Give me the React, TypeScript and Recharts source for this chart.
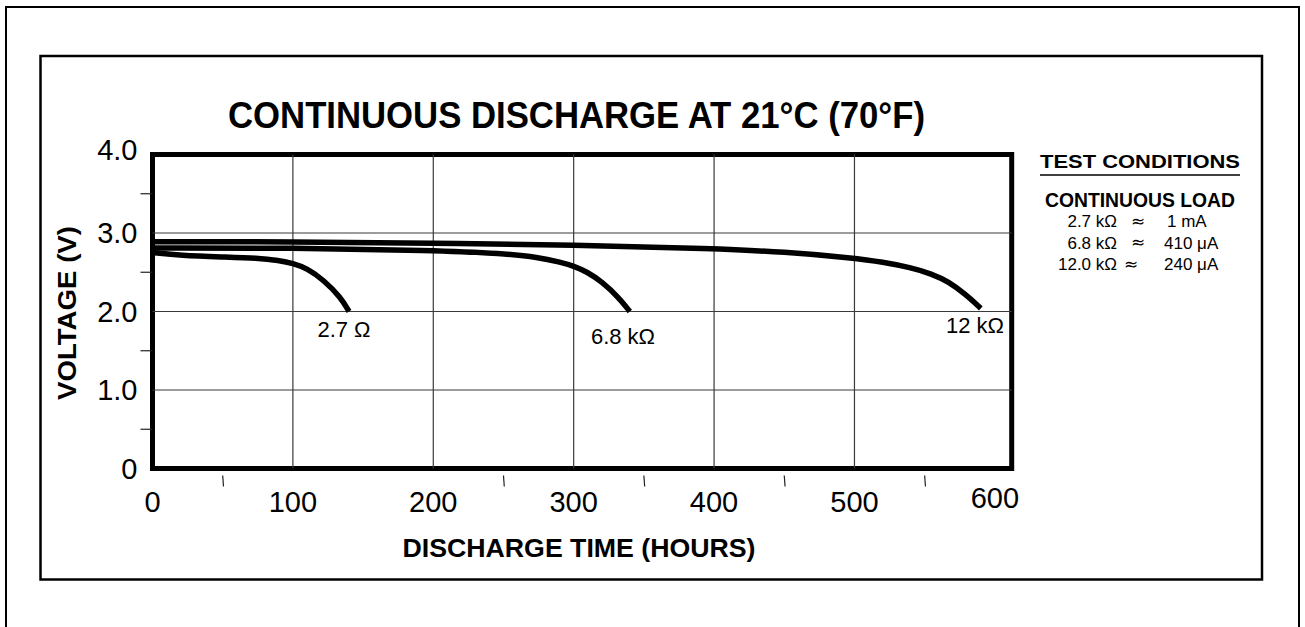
import React from "react";
import { LineChart, Line, XAxis, YAxis, ReferenceLine, ReferenceArea } from "recharts";

// discharge curves
const hours27 = [0, 20, 50, 75, 90, 100, 110, 122, 134, 140];
const volts27 = [2.75, 2.715, 2.695, 2.68, 2.65, 2.615, 2.55, 2.4, 2.18, 2.0];
const hours68 = [0, 100, 200, 250, 275, 290, 300, 310, 320, 332, 340];
const volts68 = [2.81, 2.81, 2.78, 2.74, 2.69, 2.63, 2.58, 2.5, 2.38, 2.18, 2.0];
const hours12 = [0, 100, 200, 300, 400, 450, 500, 520, 540, 555, 567, 579, 590];
const volts12 = [2.89, 2.89, 2.87, 2.85, 2.8, 2.76, 2.68, 2.63, 2.56, 2.48, 2.38, 2.22, 2.04];

const xMajor = [0, 100, 200, 300, 400, 500, 600];
const xMinor = [50, 250, 350, 450, 550];
const yMajor = [0, 1, 2, 3, 4];
const yMinor = [0.5, 1.5, 2.5, 3.5];
const gridX = [100, 200, 300, 400, 500];
const gridY = [1, 2, 3];

const curveLabels = ["2.7 \u03A9", "6.8 k\u03A9", "12 k\u03A9"];
const loads = ["2.7 k\u03A9", "6.8 k\u03A9", "12.0 k\u03A9"];
const currents = ["1 mA", "410 \u03BCA", "240 \u03BCA"];

const X_MAX = 612;
const FONT = "'Liberation Sans', Arial, Helvetica, sans-serif";

const zip = (xs: number[], ys: number[]) => xs.map((t, i) => ({ t, v: ys[i] }));
const series = [zip(hours27, volts27), zip(hours68, volts68), zip(hours12, volts12)];

function XTick(props: any) {
  const { x, y, payload } = props;
  const v = payload.value as number;
  if (xMinor.includes(v)) {
    return <line x1={x} x2={x + 0.8} y1={y + 7} y2={y + 18} stroke="#222" strokeWidth={1.2} />;
  }
  return (
    <text x={x} y={y + (v === 600 ? 39 : 43)} textAnchor="middle" fontFamily={FONT} fontSize={29} fill="#000">
      {v}
    </text>
  );
}

function YTick(props: any) {
  const { x, y, payload } = props;
  const v = payload.value as number;
  if (yMinor.includes(v)) {
    return <line x1={x - 12} x2={x} y1={y} y2={y} stroke="#222" strokeWidth={1.2} />;
  }
  return (
    <text x={x - 15} y={y + 10 - (v === 4 ? 5 : 0)} textAnchor="end" fontFamily={FONT} fontSize={29} fill="#000">
      {v === 0 ? "0" : v.toFixed(1)}
    </text>
  );
}

const curveLabelPos = [
  { x: 344, y: 337 },
  { x: 623, y: 344 },
  { x: 975, y: 333 }
];

export default function App() {
  return (
    <div style={{ position: "absolute", left: 0, top: 0, width: 1305, height: 627, background: "#fff", overflow: "hidden" }}>
      <svg width={1305} height={627} style={{ position: "absolute", left: 0, top: 0 }}>
        <rect x={6} y={7} width={1293} height={700} fill="none" stroke="#000" strokeWidth={2} />
        <rect x={40.5} y={56} width={1221.5} height={523.5} fill="none" stroke="#000" strokeWidth={2.5} />
        <text x={576.5} y={128.3} textAnchor="middle" fontFamily={FONT} fontWeight="bold" fontSize={37} textLength={697} lengthAdjust="spacingAndGlyphs">
          CONTINUOUS DISCHARGE AT 21°C (70°F)
        </text>
        <text x={76} y={313} transform="rotate(-90 76 313)" textAnchor="middle" fontFamily={FONT} fontWeight="bold" fontSize={26} textLength={174} lengthAdjust="spacingAndGlyphs">
          VOLTAGE (V)
        </text>
        <text x={579} y={557} textAnchor="middle" fontFamily={FONT} fontWeight="bold" fontSize={25} textLength={353} lengthAdjust="spacingAndGlyphs">
          DISCHARGE TIME (HOURS)
        </text>
        {curveLabels.map((s, i) => (
          <text key={s} x={curveLabelPos[i].x} y={curveLabelPos[i].y} textAnchor="middle" fontFamily={FONT} fontSize={22}>
            {s}
          </text>
        ))}
        <text x={1140} y={168.3} textAnchor="middle" fontFamily={FONT} fontWeight="bold" fontSize={19} textLength={200} lengthAdjust="spacingAndGlyphs">
          TEST CONDITIONS
        </text>
        <line x1={1040} x2={1240} y1={175} y2={175} stroke="#000" strokeWidth={1.6} />
        <text x={1140} y={207.3} textAnchor="middle" fontFamily={FONT} fontWeight="bold" fontSize={19.5} textLength={190} lengthAdjust="spacingAndGlyphs">
          CONTINUOUS LOAD
        </text>
        {loads.map((l, i) => (
          <g key={l} fontFamily={FONT} fontSize={17}>
            <text x={1117} y={227.3 + i * 21.4} textAnchor="end">{l}</text>
            <text x={i === 2 ? 1131 : 1138} y={227 + i * 21.4} textAnchor="middle" fontFamily="'DejaVu Sans', sans-serif" fontSize={17}>
              ≈
            </text>
            <text x={i === 0 ? 1167 : 1164} y={227.3 + i * 21.4} textAnchor="start">{currents[i]}</text>
          </g>
        ))}
      </svg>
      <div style={{ position: "absolute", left: 0, top: 0 }}>
        <LineChart width={1305} height={627} margin={{ top: 154.5, right: 293.3, bottom: 157.5, left: 151.5 }}>
          <XAxis
            dataKey="t"
            type="number"
            domain={[0, X_MAX]}
            ticks={[...xMajor, ...xMinor].sort((a, b) => a - b)}
            interval={0}
            height={1}
            axisLine={false}
            tickLine={false}
            tickSize={0}
            tickMargin={0}
            tick={XTick}
          />
          <YAxis
            type="number"
            domain={[0, 4]}
            ticks={[...yMajor, ...yMinor].sort((a, b) => a - b)}
            interval={0}
            width={1}
            axisLine={false}
            tickLine={false}
            tickSize={0}
            tickMargin={0}
            tick={YTick}
          />
          {gridX.map((v) => (
            <ReferenceLine key={"gx" + v} x={v} stroke="#3a3a3a" strokeWidth={1.2} />
          ))}
          {gridY.map((v) => (
            <ReferenceLine key={"gy" + v} y={v} stroke="#3a3a3a" strokeWidth={1.2} />
          ))}
          {series.map((d, i) => (
            <Line
              key={i}
              data={d}
              dataKey="v"
              type="basis"
              stroke="#000"
              strokeWidth={5.5}
              dot={false}
              activeDot={false}
              isAnimationActive={false}
            />
          ))}
          <ReferenceArea x1={0} x2={X_MAX} y1={0} y2={4} fill="none" stroke="#000" strokeWidth={5} ifOverflow="visible" />
        </LineChart>
      </div>
    </div>
  );
}
